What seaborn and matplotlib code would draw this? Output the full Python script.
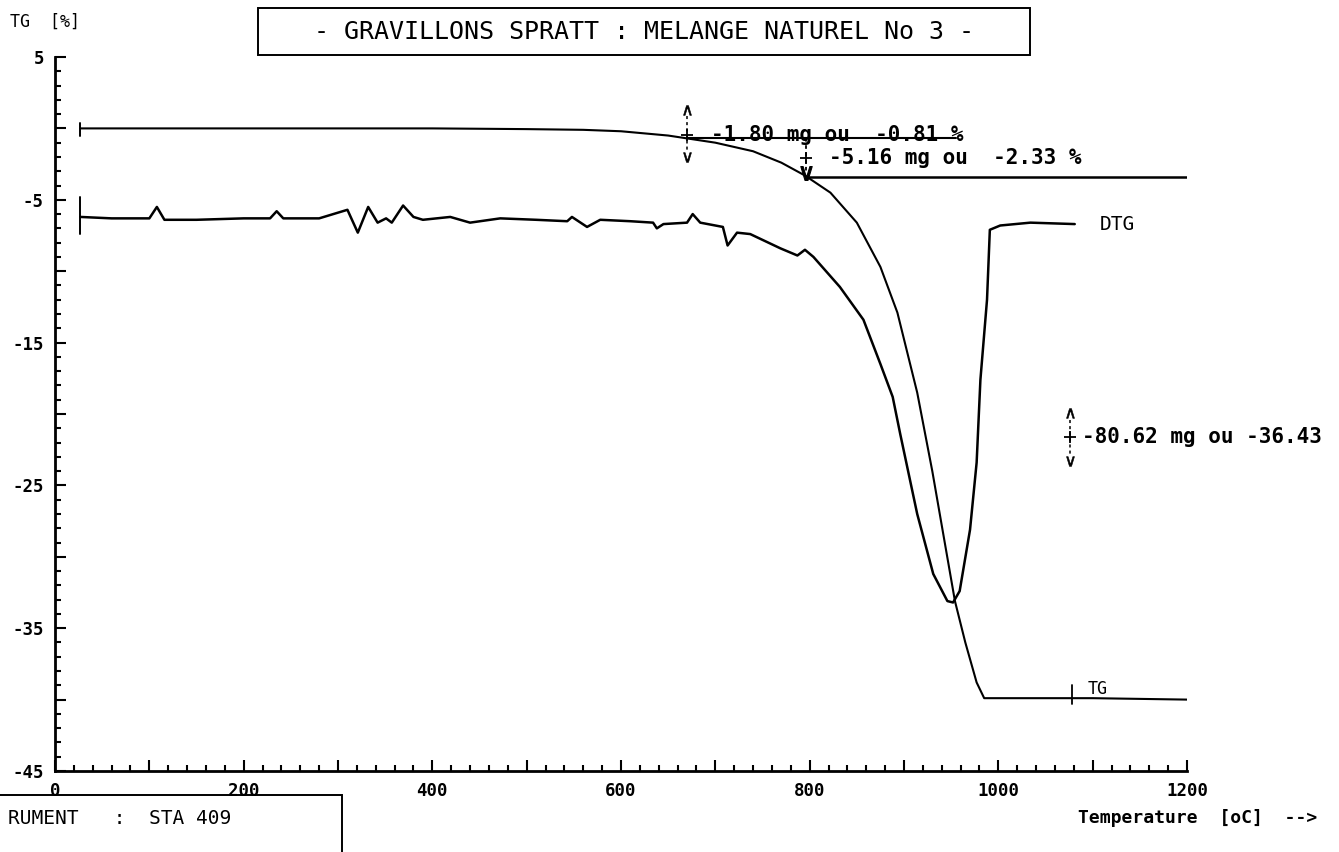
import numpy as np
import matplotlib
matplotlib.use("Agg")
import matplotlib.pyplot as plt
from matplotlib.patches import Rectangle
from matplotlib.ticker import MultipleLocator
import seaborn as sns
import pandas as pd

# TG curve (weight loss, %)
tg_temp = [27, 100, 200, 300, 400, 500, 560, 600, 650, 700, 740, 770, 795, 822, 850,
           875, 893, 914, 930, 954, 965, 977, 985, 1050, 1100, 1200]
tg_val = [0.0, 0.0, 0.0, 0.0, 0.0, -0.05, -0.1, -0.2, -0.5, -1.0, -1.6, -2.4, -3.3, -4.5, -6.6,
          -9.7, -12.9, -18.5, -24.0, -33.1, -36.0, -38.8, -39.9, -39.9, -39.9, -40.0]

# DTG curve (plotted on the same axis)
dtg_temp = [27, 60, 100, 108, 116, 150, 200, 228, 235, 242, 280, 310, 321, 332, 342, 351,
            357, 369, 380, 390, 419, 440, 472, 510, 543, 548, 564, 578, 610, 634, 638, 645,
            670, 676, 684, 708, 713, 723, 737, 769, 787, 795, 804, 832, 857, 875, 888, 896,
            914, 931, 946, 952, 959, 970, 977, 981, 988, 991, 1002, 1034, 1081]
dtg_val = [-6.2, -6.3, -6.3, -5.5, -6.4, -6.4, -6.3, -6.3, -5.8, -6.3, -6.3, -5.7, -7.3, -5.5,
           -6.6, -6.3, -6.6, -5.4, -6.2, -6.4, -6.2, -6.6, -6.3, -6.4, -6.5, -6.2, -6.9, -6.4,
           -6.5, -6.6, -7.0, -6.7, -6.6, -6.0, -6.6, -6.9, -8.2, -7.3, -7.4, -8.4, -8.9, -8.5,
           -9.0, -11.1, -13.4, -16.5, -18.8, -21.4, -27.0, -31.2, -33.1, -33.2, -32.4, -28.1,
           -23.4, -17.6, -12.0, -7.1, -6.8, -6.6, -6.7]

# step annotations: x of the marker, y of the "+", text
step_x = [670, 796, 1076]
step_y = [-0.45, -2.1, -21.6]
step_text = ["-1.80 mg ou  -0.81 %", "-5.16 mg ou  -2.33 %", "-80.62 mg ou -36.43"]
step_gap = [25, 24, 13]

title = "- GRAVILLONS SPRATT : MELANGE NATUREL No 3 -"

sns.set_theme(style="ticks")
plt.rcParams["font.family"] = ["DejaVu Sans Mono", "DejaVu Sans"]
plt.rcParams["text.color"] = "black"
plt.rcParams["xtick.color"] = "black"
plt.rcParams["ytick.color"] = "black"

W, H = 1339, 852
fig = plt.figure(figsize=(W / 100, H / 100), dpi=100)
ax = fig.add_axes([55 / W, 1 - 771 / H, (1187 - 55) / W, (771 - 57) / H])
ax.set_facecolor("white")
fig.patch.set_facecolor("white")

tg = pd.DataFrame({"temp": tg_temp, "val": tg_val})
dtg = pd.DataFrame({"temp": dtg_temp, "val": dtg_val})
sns.lineplot(data=tg, x="temp", y="val", ax=ax, color="black", lw=1.5, estimator=None)
sns.lineplot(data=dtg, x="temp", y="val", ax=ax, color="black", lw=1.8, estimator=None)

# start markers of both curves
ax.plot([tg_temp[0]] * 2, [tg_val[0] + 0.4, tg_val[0] - 0.5], color="black", lw=1.4)
ax.plot([dtg_temp[0]] * 2, [dtg_val[0] + 1.4, dtg_val[0] - 1.2], color="black", lw=1.4)

ax.set_xlim(0, 1200)
ax.set_ylim(-45, 5)
ax.xaxis.set_major_locator(MultipleLocator(100))
ax.xaxis.set_minor_locator(MultipleLocator(20))
ax.yaxis.set_major_locator(MultipleLocator(5))
ax.yaxis.set_minor_locator(MultipleLocator(1))
ax.set_xticks(ax.get_xticks())
ax.set_xticklabels([str(int(v)) if v % 200 == 0 else "" for v in ax.get_xticks()],
                   fontweight="bold")
ax.set_yticks(ax.get_yticks())
ax.set_yticklabels([str(int(v)) if int(v) % 10 != 0 else "" for v in ax.get_yticks()],
                   fontweight="bold")
ax.set_xlim(0, 1200)
ax.set_ylim(-45, 5)
ax.tick_params(which="both", direction="in", color="black", width=1.5)
ax.tick_params(which="major", length=8, labelsize=12.5, pad=8)
ax.tick_params(which="minor", length=4)
for s in ["left", "bottom"]:
    ax.spines[s].set_linewidth(2)
    ax.spines[s].set_color("black")
sns.despine(ax=ax)
ax.set_xlabel("")
ax.set_ylabel("")

# step annotations: dashed markers with chevron heads
fs = 15
up = dict(marker=r"$\wedge$", ms=7, mew=0.4, color="black", ls="none")
down = dict(marker=r"$\vee$", ms=7, mew=0.4, color="black", ls="none")
ax.plot([670, 955], [-0.65, -0.65], color="black", lw=1.5)
ax.plot([796, 1200], [-3.4, -3.4], color="black", lw=1.8)
ax.plot([796, 796], [-0.65, -3.0], color="black", lw=1.3, ls=(0, (2, 2)))
ax.plot([796], [-3.15], marker=r"$\vee$", ms=10, mew=0.8, color="black", ls="none")
ax.plot([670, 670], [0.9, -1.6], color="black", lw=1.1, ls=(0, (2, 2)))
ax.plot([670], [1.3], **up)
ax.plot([670], [-2.0], **down)
ax.plot([1076, 1076], [-20.4, -22.8], color="black", lw=1.1, ls=(0, (2, 2)))
ax.plot([1076], [-19.9], **up)
ax.plot([1076], [-23.3], **down)
for x, y, t, g in zip(step_x, step_y, step_text, step_gap):
    ax.plot([x], [y], marker="+", ms=9, mew=1.3, color="black", ls="none")
    ax.text(x + g, y, t, ha="left", va="center", fontsize=fs, fontweight="bold",
            clip_on=False)

# curve labels
ax.text(1108, -6.7, "DTG", ha="left", va="center", fontsize=14)
ax.text(1095, -39.9, "TG", ha="left", va="bottom", fontsize=12)
ax.plot([1078, 1078], [-39.0, -40.3], color="black", lw=1.3)

# header / footer text
fig.text(10 / W, 1 - 22 / H, "TG  [%]", ha="left", va="center", fontsize=12)
fig.add_artist(Rectangle((258 / W, 1 - 55 / H), (1030 - 258) / W, 47 / H,
                         transform=fig.transFigure, fill=False, ec="black", lw=1.4))
fig.text(644 / W, 1 - 32 / H, title, ha="center", va="center", fontsize=18)
fig.add_artist(Rectangle((-5 / W, -5 / H), 347 / W, (852 - 795 + 5) / H,
                         transform=fig.transFigure, fill=False, ec="black", lw=1.4))
fig.text(8 / W, 1 - 818 / H, "RUMENT   :  STA 409", ha="left", va="center", fontsize=14)
fig.text(1317 / W, 1 - 818 / H, "Temperature  [oC]  -->", ha="right", va="center",
         fontsize=13, fontweight="bold")

fig.savefig("out.png", dpi=100, facecolor="white")
